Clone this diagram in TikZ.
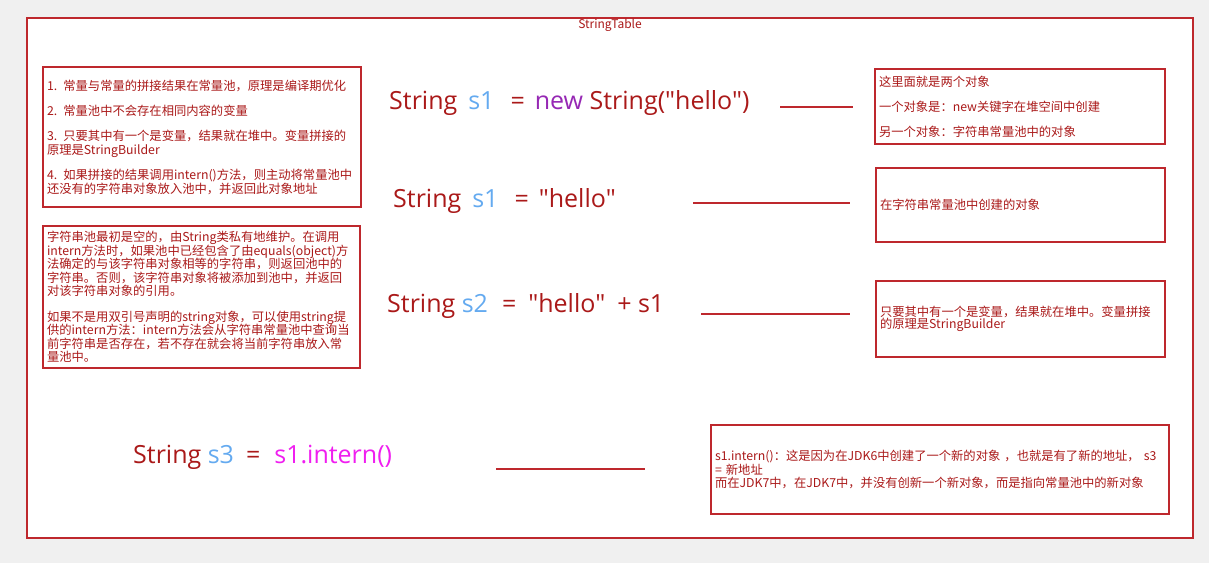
\documentclass[tikz,border=0pt]{standalone}
\usepackage{fontspec}
\setmainfont{Noto Sans CJK SC}
\newfontfamily\codefont{Open Sans}
\usetikzlibrary{positioning}
\definecolor{bggray}{RGB}{240,240,240}
\definecolor{framered}{RGB}{190,40,45}
\definecolor{textred}{RGB}{170,25,25}
\definecolor{varblue}{RGB}{100,170,240}
\definecolor{kwpurple}{RGB}{150,40,180}
\definecolor{callpink}{RGB}{240,30,240}

\begin{document}
\begin{tikzpicture}[x=1pt, y=-1pt,
      note/.style={draw=framered, line width=2pt, fill=white, anchor=north west, inner sep=4pt,
        align=left, text=textred, font=\fontsize{12.3}{14}\selectfont},
      code/.style={anchor=base west, inner sep=0pt, text=textred, font=\codefont\fontsize{25}{28}\selectfont},
      link/.style={draw=framered, line width=2pt}
    ]
    % background and outer frame
    \fill[bggray] (0,0) rectangle (1209,563);
    \useasboundingbox (0,0) rectangle (1209,563);
    \draw[draw=framered, line width=2pt, fill=white] (27,18) rectangle (1193,538);
    \node[text=textred, font=\fontsize{12}{14}\selectfont] (title) at (610,25) {StringTable};

    % left notes
    \node[note, minimum width=318pt, minimum height=140pt, text width=310pt] (rules) at (42,66)
      {1. 常量与常量的拼接结果在常量池，原理是编译期优化\\[11pt]
       2. 常量池中不会存在相同内容的变量\\[11pt]
       3. 只要其中有一个是变量，结果就在堆中。变量拼接的\\原理是StringBuilder\\[11pt]
       4. 如果拼接的结果调用intern()方法，则主动将常量池中\\还没有的字符串对象放入池中，并返回此对象地址};
    \node[note, minimum width=317pt, minimum height=142pt, text width=309pt,
          font=\fontsize{12.3}{13.5}\selectfont] (pool) at (42,225)
      {字符串池最初是空的，由String类私有地维护。在调用\\
       intern方法时，如果池中已经包含了由equals(object)方\\
       法确定的与该字符串对象相等的字符串，则返回池中的\\
       字符串。否则，该字符串对象将被添加到池中，并返回\\
       对该字符串对象的引用。\\[12pt]
       如果不是用双引号声明的string对象，可以使用string提\\
       供的intern方法：intern方法会从字符串常量池中查询当\\
       前字符串是否存在，若不存在就会将当前字符串放入常\\
       量池中。};

    % right notes
    \node[note, minimum width=290pt, minimum height=75pt, text width=282pt] (twoobj) at (874,68)
      {这里面就是两个对象\\[11pt]
       一个对象是：new关键字在堆空间中创建\\[11pt]
       另一个对象：字符串常量池中的对象};
    \node[note, minimum width=289pt, minimum height=74pt, text width=281pt] (literal) at (875,167)
      {在字符串常量池中创建的对象};
    \node[note, minimum width=289pt, minimum height=76pt, text width=281pt,
          font=\fontsize{12.3}{12.5}\selectfont] (concat) at (875,280)
      {只要其中有一个是变量，结果就在堆中。变量拼接\\的原理是StringBuilder};
    \node[note, minimum width=458pt, minimum height=89pt, text width=450pt,
          font=\fontsize{12.3}{13.5}\selectfont] (intern) at (710,424)
      {s1.intern()：这是因为在JDK6中创建了一个新的对象 ，也就是有了新的地址， s3\\
       = 新地址\\
       而在JDK7中，在JDK7中，并没有创新一个新对象，而是指向常量池中的新对象};

    % code lines
    \node[code] (newstr) at (389,109)
      {String\hspace{11pt}{\color{varblue}s1}\hspace{16pt}=\hspace{10pt}{\color{kwpurple}new} String("hello")};
    \node[code] (litstr) at (393,207)
      {String\hspace{11pt}{\color{varblue}s1}\hspace{16pt}=\hspace{10pt}"hello"};
    \node[code] (sumstr) at (387,312)
      {String {\color{varblue}s2}\hspace{14pt}=\hspace{12pt}"hello"\hspace{12pt}+ s1};
    \node[code] (callstr) at (133,463)
      {String {\color{varblue}s3}\hspace{12pt}=\hspace{14pt}{\color{callpink}s1.intern()}};

    % connectors
    \coordinate (a1) at (780,107);  \coordinate (b1) at (853,107);
    \coordinate (a2) at (693,203);  \coordinate (b2) at (850,203);
    \coordinate (a3) at (701,314);  \coordinate (b3) at (850,314);
    \coordinate (a4) at (496,469);  \coordinate (b4) at (645,469);
    \draw[link] (a1) -- (b1);
    \draw[link] (a2) -- (b2);
    \draw[link] (a3) -- (b3);
    \draw[link] (a4) -- (b4);
  \end{tikzpicture}
\end{document}
